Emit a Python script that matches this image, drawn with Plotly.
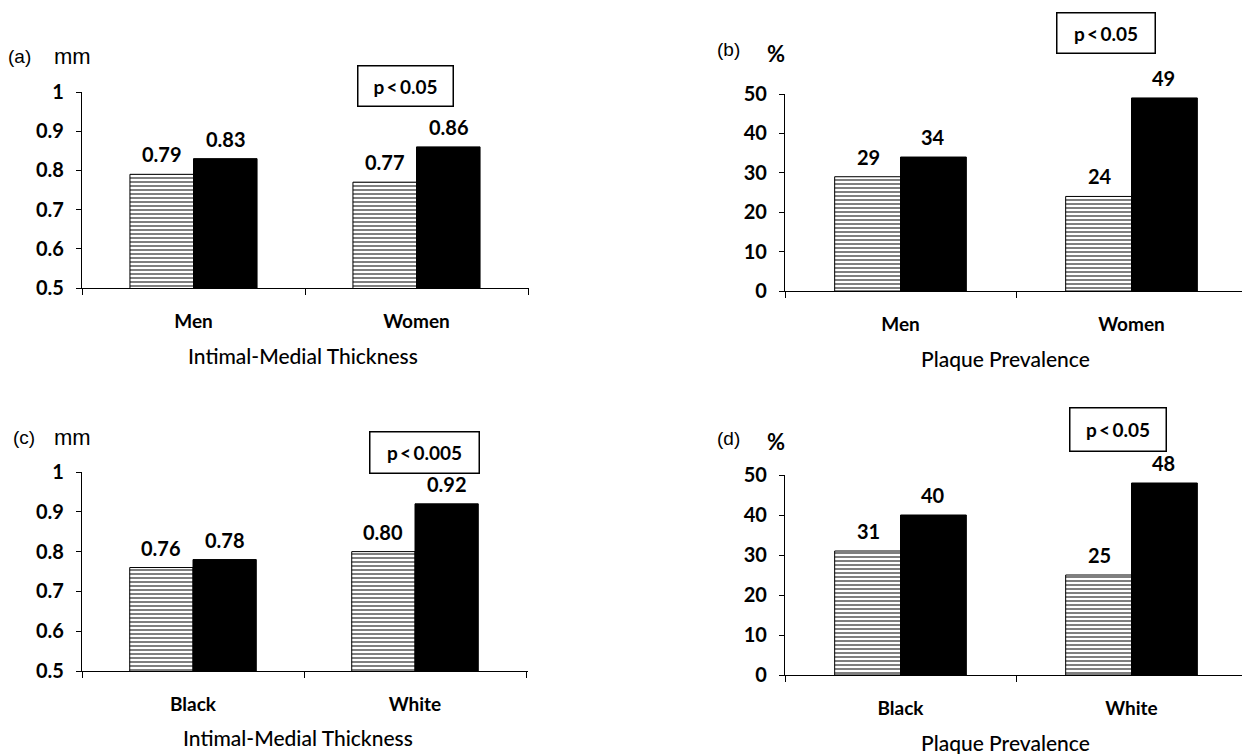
import plotly.graph_objects as go

# ---------------- data ----------------
sex_categories = ["Men", "Women"]
race_categories = ["Black", "White"]

imt_sex_hatched = [0.79, 0.77]
imt_sex_black = [0.83, 0.86]
plaque_sex_hatched = [29, 24]
plaque_sex_black = [34, 49]
imt_race_hatched = [0.76, 0.80]
imt_race_black = [0.78, 0.92]
plaque_race_hatched = [31, 25]
plaque_race_black = [40, 48]

imt_tickvals = [0.5, 0.6, 0.7, 0.8, 0.9, 1.0]
imt_ticktext = ["0.5", "0.6", "0.7", "0.8", "0.9", "1"]
plaque_tickvals = [0, 10, 20, 30, 40, 50]
plaque_ticktext = ["0", "10", "20", "30", "40", "50"]

panel_letters = ["(a)", "(b)", "(c)", "(d)"]
unit_labels = ["mm", "%", "mm", "%"]
x_titles = ["Intimal-Medial Thickness", "Plaque Prevalence",
            "Intimal-Medial Thickness", "Plaque Prevalence"]
p_texts = ["p\u2009<\u20090.05", "p\u2009<\u20090.05", "p\u2009<\u20090.005", "p\u2009<\u20090.05"]

# ---------------- layout geometry (screen pixels) ----------------
W, H = 1242, 754


def fx(px):
    return px / W


def fy(py):
    return 1 - py / H


panels = [
    dict(cats=sex_categories, h=imt_sex_hatched, b=imt_sex_black, fmt="{:.2f}",
         tv=imt_tickvals, tt=imt_ticktext, yr=[0.5, 1.0],
         left=82, right=529, top=92, bottom=288, cw=223,
         letter_xy=(19, 57), unit_xy=(72, 57), p_box=(357, 65, 453, 106),
         title_xy=(303, 355)),
    dict(cats=sex_categories, h=plaque_sex_hatched, b=plaque_sex_black, fmt="{:d}",
         tv=plaque_tickvals, tt=plaque_ticktext, yr=[0, 50],
         left=785, right=1242, top=94, bottom=291, cw=231,
         letter_xy=(728, 49), unit_xy=(776, 53), p_box=(1056, 12, 1155, 53),
         title_xy=(1005, 358)),
    dict(cats=race_categories, h=imt_race_hatched, b=imt_race_black, fmt="{:.2f}",
         tv=imt_tickvals, tt=imt_ticktext, yr=[0.5, 1.0],
         left=82, right=528, top=472, bottom=671, cw=222,
         letter_xy=(24, 437), unit_xy=(72, 437), p_box=(369, 431, 479, 473),
         title_xy=(298, 737)),
    dict(cats=race_categories, h=plaque_race_hatched, b=plaque_race_black, fmt="{:d}",
         tv=plaque_tickvals, tt=plaque_ticktext, yr=[0, 50],
         left=785, right=1242, top=475, bottom=675, cw=231,
         letter_xy=(728, 438), unit_xy=(776, 442), p_box=(1069, 407, 1166, 451),
         title_xy=(1005, 742)),
]

NUMFONT = dict(family="Lato", size=20, color="black", weight=700)
CATFONT = dict(family="Lato", size=19, color="black", weight=700)
TITLEFONT = dict(family="Lato", size=21, color="black", weight=500)
ARIAL = dict(family="Liberation Sans", size=19, color="black")

fig = go.Figure()
annotations = []
layout_axes = {}

for i, p in enumerate(panels):
    n = "" if i == 0 else str(i + 1)
    xa, ya = "x" + n, "y" + n
    fig.add_trace(go.Bar(
        x=p["cats"], y=p["h"], xaxis=xa, yaxis=ya, offsetgroup="h",
        marker=dict(color="white", line=dict(color="black", width=1),
                    pattern=dict(shape="-", fgcolor="black", bgcolor="white",
                                 size=4, solidity=0.5)),
        showlegend=False, hoverinfo="skip"))
    fig.add_trace(go.Bar(
        x=p["cats"], y=p["b"], xaxis=xa, yaxis=ya, offsetgroup="b",
        marker=dict(color="black", line=dict(color="black", width=1)),
        showlegend=False, hoverinfo="skip"))

    x0 = -0.5
    x1 = -0.5 + (p["right"] - p["left"]) / p["cw"]
    layout_axes["xaxis" + n] = dict(
        domain=[fx(p["left"]), fx(p["right"])], anchor=ya,
        type="category", range=[x0, x1], showline=True, linecolor="black",
        linewidth=1.2, ticks="outside", ticklen=6, tickcolor="black",
        tickson="boundaries", showgrid=False, zeroline=False, automargin=False,
        tickfont=CATFONT, ticklabelstandoff=16, fixedrange=True)
    layout_axes["yaxis" + n] = dict(
        domain=[fy(p["bottom"]), fy(p["top"])], anchor=xa,
        range=p["yr"], tickvals=p["tv"], ticktext=p["tt"],
        showline=True, linecolor="black", linewidth=1.2, ticks="outside",
        ticklen=5, tickcolor="black", showgrid=False, zeroline=False, automargin=False,
        tickfont=NUMFONT, ticklabelstandoff=8, fixedrange=True)

    # value labels above each bar
    half = 32
    for cat, v in zip(p["cats"], p["h"]):
        annotations.append(dict(x=cat, y=v, xref=xa, yref=ya, text=p["fmt"].format(v),
                                showarrow=False, font=NUMFONT, xshift=-half, yshift=20))
    for cat, v in zip(p["cats"], p["b"]):
        annotations.append(dict(x=cat, y=v, xref=xa, yref=ya, text=p["fmt"].format(v),
                                showarrow=False, font=NUMFONT, xshift=half, yshift=20))

    # panel letter and unit
    lx, ly = p["letter_xy"]
    annotations.append(dict(x=fx(lx), y=fy(ly), xref="paper", yref="paper",
                            text=panel_letters[i], showarrow=False, font=ARIAL,
                            xanchor="center", yanchor="middle"))
    ux, uy = p["unit_xy"]
    annotations.append(dict(x=fx(ux), y=fy(uy), xref="paper", yref="paper",
                            text=unit_labels[i], showarrow=False,
                            font=dict(ARIAL, size=22) if unit_labels[i] == "mm"
                            else dict(family="Lato", size=22, color="black", weight=700),
                            xanchor="center", yanchor="middle"))
    # p-value box
    bx0, by0, bx1, by1 = p["p_box"]
    annotations.append(dict(x=fx((bx0 + bx1) / 2), y=fy((by0 + by1) / 2),
                            xref="paper", yref="paper", text=p_texts[i],
                            showarrow=False, font=dict(NUMFONT, size=19),
                            xanchor="center", yanchor="middle",
                            width=bx1 - bx0 - 2, height=by1 - by0 - 2,
                            bordercolor="black", borderwidth=1.5, borderpad=0,
                            bgcolor="white"))
    # x-axis title
    tx, ty = p["title_xy"]
    annotations.append(dict(x=fx(tx), y=fy(ty), xref="paper", yref="paper",
                            text=x_titles[i], showarrow=False, font=TITLEFONT,
                            xanchor="center", yanchor="middle"))

fig.update_layout(
    width=W, height=H, margin=dict(l=0, r=0, t=0, b=0, autoexpand=False),
    paper_bgcolor="white", plot_bgcolor="white",
    barmode="group", bargap=0.43, bargroupgap=0,
    annotations=annotations, showlegend=False,
    **layout_axes)

fig.write_html("out.html", config={"displayModeBar": False},
               post_script="document.body.style.margin='0px';"
                           "document.body.style.overflow='hidden';")
